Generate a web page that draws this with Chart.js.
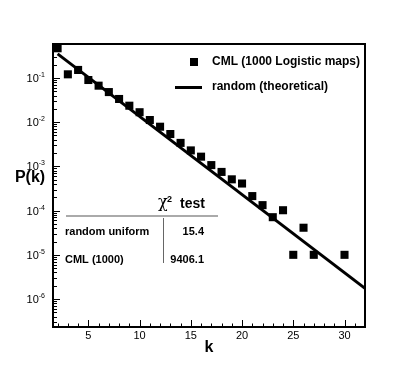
<!DOCTYPE html>
<html>
<head>
<meta charset="utf-8">
<script src="https://cdn.jsdelivr.net/npm/chart.js@4.4.1/dist/chart.umd.min.js"></script>
<style>
  html, body { margin: 0; padding: 0; background: #fff; }
</style>
</head>
<body>
<canvas id="chart" width="415" height="369"></canvas>
<script>
// run length k and measured probability P(k) for the CML
const kValues   = [2, 3, 4, 5, 6, 7, 8, 9, 10, 11, 12, 13, 14, 15, 16, 17, 18, 19, 20, 21, 22, 23, 24, 25, 26, 27, 30];
const cmlValues = [0.47, 0.121, 0.152, 0.090, 0.067, 0.048, 0.0335, 0.0236, 0.0168, 0.0112, 0.0079, 0.0054,
                   0.0034, 0.0023, 0.00166, 0.00107, 0.00075, 0.00051, 0.00041, 0.000213, 0.000133, 0.000071,
                   0.000102, 1e-5, 4.1e-5, 1e-5, 1e-5];

// theoretical line for a random sequence (straight on the log axis)
const theoryK      = [2, 32];
const theoryValues = [0.35, 1.74e-6];

// tick labels
const xTicks   = [5, 10, 15, 20, 25, 30];
const yTickExp = [-1, -2, -3, -4, -5, -6];

// chi-square table
const tableRows   = ['random uniform', 'CML (1000)'];
const tableValues = ['15.4', '9406.1'];

const seriesLabels = ['CML (1000 Logistic maps)', 'random (theoretical)'];

const FONT = "'Liberation Sans', Arial, Helvetica, sans-serif";

// frame, inward ticks, tick labels, titles, legend and table
const decorations = {
    id: 'decorations',
    afterDraw(chart) {
        const { ctx, chartArea: a, scales: { x, y } } = chart;
        ctx.save();
        ctx.strokeStyle = '#000';
        ctx.fillStyle = '#000';

        // frame
        ctx.lineWidth = 2;
        ctx.strokeRect(a.left, a.top, a.right - a.left, a.bottom - a.top);

        // x ticks (pointing up into the plot)
        ctx.lineWidth = 1;
        ctx.beginPath();
        for (let k = Math.ceil(x.min); k <= x.max; k++) {
            const px = Math.round(x.getPixelForValue(k)) + 0.5;
            const len = k % 5 === 0 ? 7 : 3.5;
            ctx.moveTo(px, a.bottom);
            ctx.lineTo(px, a.bottom - len);
        }
        // y ticks (pointing right into the plot)
        for (let e = -7; e <= 0; e++) {
            for (let m = 1; m < 10; m++) {
                const v = m * Math.pow(10, e);
                if (v < y.min || v > y.max) continue;
                const py = Math.round(y.getPixelForValue(v)) + 0.5;
                const len = m === 1 ? 7 : 4;
                ctx.moveTo(a.left, py);
                ctx.lineTo(a.left + len, py);
            }
        }
        ctx.stroke();

        // x tick labels
        ctx.textBaseline = 'middle';
        ctx.textAlign = 'center';
        ctx.font = `11px ${FONT}`;
        xTicks.forEach(v => ctx.fillText(String(v), x.getPixelForValue(v), a.bottom + 9));

        // y tick labels 10^n
        yTickExp.forEach(e => {
            const py = y.getPixelForValue(Math.pow(10, e));
            ctx.font = `7px ${FONT}`;
            ctx.textAlign = 'right';
            const ex = String(e);
            const exW = ctx.measureText(ex).width;
            ctx.fillText(ex, a.left - 8, py - 3);
            ctx.font = `11px ${FONT}`;
            ctx.fillText('10', a.left - 8 - exW, py + 1);
        });

        // axis titles
        ctx.font = `bold 16px ${FONT}`;
        ctx.textAlign = 'center';
        ctx.fillText('P(k)', 30, 178);
        ctx.fillText('k', (a.left + a.right) / 2, a.bottom + 21);

        // legend
        const sq = chart.data.datasets[0];
        ctx.fillRect(190, 58, 8, 8);
        ctx.lineWidth = 3;
        ctx.beginPath();
        ctx.moveTo(175, 87.5);
        ctx.lineTo(202, 87.5);
        ctx.stroke();
        ctx.font = `bold 12px ${FONT}`;
        ctx.textAlign = 'left';
        ctx.fillText(sq.label, 212, 62);
        ctx.fillText(chart.data.datasets[1].label, 212, 87);

        // chi-square table
        ctx.textBaseline = 'alphabetic';
        ctx.font = `16px 'DejaVu Serif', serif`;
        ctx.fillText('\u03c7', 158, 207);
        ctx.font = `bold 9px ${FONT}`;
        ctx.fillText('2', 167, 202);
        ctx.font = `bold 14px ${FONT}`;
        ctx.fillText('test', 180, 208);

        ctx.strokeStyle = '#aaa';
        ctx.lineWidth = 2;
        ctx.beginPath();
        ctx.moveTo(66, 216);
        ctx.lineTo(218, 216);
        ctx.stroke();
        ctx.strokeStyle = '#666';
        ctx.lineWidth = 1;
        ctx.beginPath();
        ctx.moveTo(163.5, 218);
        ctx.lineTo(163.5, 263);
        ctx.stroke();

        ctx.textBaseline = 'middle';
        ctx.font = `bold 11px ${FONT}`;
        tableRows.forEach((row, i) => {
            const ty = 232 + i * 28;
            ctx.textAlign = 'left';
            ctx.fillText(row, 65, ty);
            ctx.textAlign = 'right';
            ctx.fillText(tableValues[i], 204, ty);
        });
        ctx.restore();
    }
};

const ctx = document.getElementById('chart').getContext('2d');
new Chart(ctx, {
    type: 'scatter',
    data: {
        datasets: [{
            label: seriesLabels[0],
            data: kValues.map((k, i) => ({ x: k, y: cmlValues[i] })),
            pointStyle: 'rect',
            pointRadius: 5.7,
            pointBorderWidth: 0,
            backgroundColor: '#000',
            borderColor: '#000'
        }, {
            label: seriesLabels[1],
            data: theoryK.map((k, i) => ({ x: k, y: theoryValues[i] })),
            showLine: true,
            borderColor: '#000',
            borderWidth: 3,
            pointRadius: 0
        }]
    },
    options: {
        responsive: false,
        animation: false,
        events: [],
        layout: { padding: { left: 53, top: 44, right: 50, bottom: 42 } },
        plugins: { legend: { display: false }, tooltip: { enabled: false } },
        scales: {
            x: {
                type: 'linear',
                min: 1.55,
                max: 32,
                grid: { display: false, drawTicks: false },
                border: { display: false },
                ticks: { display: false }
            },
            y: {
                type: 'logarithmic',
                min: 2.33e-7,
                max: 0.587,
                grid: { display: false, drawTicks: false },
                border: { display: false },
                ticks: { display: false }
            }
        }
    },
    plugins: [decorations]
});
</script>
</body>
</html>
